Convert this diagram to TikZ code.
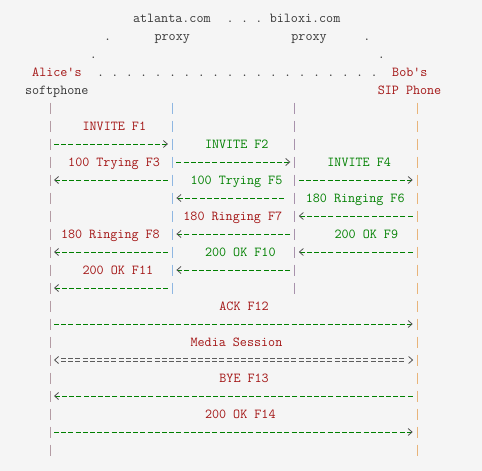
\documentclass[tikz,border=0pt]{standalone}
\usepackage{fontspec}
\usetikzlibrary{arrows.meta}
\usetikzlibrary{calc}

\definecolor{bgcol}{HTML}{F5F5F5}
\definecolor{hdrcol}{HTML}{383838}
\definecolor{strcol}{HTML}{A31515}
\definecolor{grncol}{HTML}{008000}
\definecolor{tipcol}{HTML}{505050}
\definecolor{eqcol}{HTML}{5C5C5C}
\definecolor{alicecol}{HTML}{B49CA4}
\definecolor{atlcol}{HTML}{8FB7E2}
\definecolor{bilcol}{HTML}{A892AC}
\definecolor{bobcol}{HTML}{E8B47A}

\tikzstyle{txt}=[font=\ttfamily\fontsize{13.7}{13.7}\selectfont, inner sep=0pt, anchor=base west]
\tikzstyle{lifeline}=[line width=1pt, dash pattern=on 11pt off 7pt, shorten <=-5.5pt, shorten >=-5.5pt]
\tikzstyle{msg}=[draw=grncol, line width=0.9pt, dash pattern=on 5pt off 2.2pt, ->]
\tikzstyle{media}=[draw=eqcol, line width=0.8pt, double=bgcol, double distance=1.8pt, dash pattern=on 5pt off 2.2pt]
\tikzstyle{tipsonly}=[draw=tipcol, line width=0.8pt, dash pattern=on 0pt off 1000pt, <->]
\tikzset{>={Straight Barb[length=4pt, width=7pt, line width=0.8pt, color=tipcol]}}

\begin{document}
\begin{tikzpicture}[x=1pt, y=-1pt]

  \def\cw{7.2}
  \def\xo{-18.4}
  \def\dy{18}

  \fill[bgcol] (0,0) rectangle (482,471);
  \useasboundingbox (0,0) rectangle (482,471);

  % header
  \foreach \c/\r/\name/\label in {21/0/atlanta/atlanta.com, 34/0/dotA/., 36/0/dotB/., 38/0/dotC/., 40/0/biloxi/biloxi.com,
        17/1/dotD/., 24/1/proxyA/proxy, 43/1/proxyB/proxy, 53/1/dotE/.,
        15/2/dotF/., 55/2/dotG/., 6/4/soft/softphone}
     \node[txt, hdrcol] (\name) at (\xo+\c*\cw, \r*\dy+22) {\label};

  \foreach \c in {16,18,...,54}
     \node[txt, hdrcol] (dot\c) at (\xo+\c*\cw, 3*\dy+22) {.};

  \foreach \c/\r/\name/\label in {7/3/alice/Alice's, 57/3/bob/Bob's, 55/4/sipphone/SIP Phone}
     \node[txt, strcol] (\name) at (\xo+\c*\cw, \r*\dy+22) {\label};

  % lifelines
  \foreach \name/\c/\last/\col in {A/9/24/alicecol, P/26/15/atlcol, Q/43/15/bilcol, B/60/24/bobcol} {
     \foreach \r in {5,...,\last}
        \coordinate (\name\r) at (\xo+\c*\cw+0.5*\cw, \r*\dy+18);
     \draw[lifeline, draw=\col] (\name5) -- (\name\last);
  }

  % messages
  \foreach \s/\d/\r/\sa/\sb in {A/P/7/4/4.5, P/Q/8/4/4.5, P/A/9/4.7/4, Q/B/9/4/4.5,
        Q/P/10/11/4, B/Q/11/4.7/4, Q/P/12/4.7/4, P/A/13/4.7/4, B/Q/13/4.7/4,
        Q/P/14/4.7/4, P/A/15/4.7/4, A/B/17/4/4.5, B/A/21/4.7/4, A/B/23/4/4.5}
     \draw[msg, shorten <=\sa pt, shorten >=\sb pt] (\s\r) -- (\d\r);

  \draw[media, shorten <=11pt, shorten >=12pt] (A19) -- (B19);
  \draw[tipsonly, shorten <=4pt, shorten >=4pt] (A19) -- (B19);

  \foreach \c/\r/\name/\label in {14/6/f1/INVITE F1, 12/8/f3/100 Trying F3, 28/11/f7/180 Ringing F7,
        11/12/f8/180 Ringing F8, 14/14/f11/200 OK F11, 33/16/f12/ACK F12,
        29/18/session/Media Session, 33/20/f13/BYE F13, 31/22/f14/200 OK F14}
     \node[txt, strcol] (\name) at (\xo+\c*\cw, \r*\dy+22) {\label};

  \foreach \c/\r/\name/\label in {31/7/f2/INVITE F2, 48/8/f4/INVITE F4, 29/9/f5/100 Trying F5,
        45/10/f6/180 Ringing F6, 49/12/f9/200 OK F9, 31/13/f10/200 OK F10}
     \node[txt, grncol] (\name) at (\xo+\c*\cw, \r*\dy+22) {\label};

%  \draw[msg] (A24) -- (B24);

\end{tikzpicture}
\end{document}
